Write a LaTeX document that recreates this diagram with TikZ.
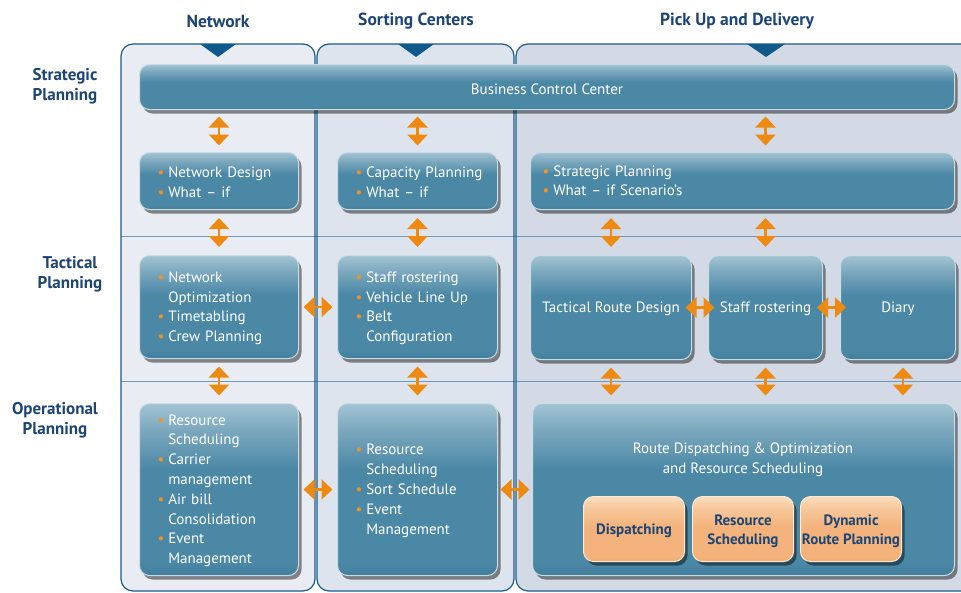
\documentclass[tikz,border=0pt]{standalone}
\usepackage{fontspec}
\setmainfont{PT Sans}
\usetikzlibrary{arrows.meta,shadows,calc}
\definecolor{navy}{HTML}{1C4575}
\definecolor{laneA}{HTML}{E9EDF3}
\definecolor{laneB}{HTML}{DEE4ED}
\definecolor{laneC}{HTML}{D3DAE6}
\definecolor{laneedge}{HTML}{1B5B88}
\definecolor{lanetri}{HTML}{0F5A8A}
\definecolor{rowln}{HTML}{6C9BBD}
\definecolor{arrowor}{HTML}{EE8A12}
\definecolor{bulor}{HTML}{F29222}
\definecolor{bbot}{HTML}{427E9D}
\definecolor{bmain}{HTML}{4B88A6}
\definecolor{bmid}{HTML}{7AA7BD}
\definecolor{btop}{HTML}{A3C4D3}
\definecolor{bedge}{HTML}{C9DDE7}
\definecolor{obot}{HTML}{F2AA6C}
\definecolor{omain}{HTML}{F4B37C}
\definecolor{omid}{HTML}{F7C89B}
\definecolor{otop}{HTML}{FADDBE}
\definecolor{oedge}{HTML}{FCE8D3}
\pgfdeclareverticalshading{bluegloss}{100bp}{color(0bp)=(bbot); color(25bp)=(bbot); color(29bp)=(bmain); color(56bp)=(bmain); color(67bp)=(bmid); color(75bp)=(btop); color(100bp)=(btop)}
\pgfdeclareverticalshading{orgloss}{100bp}{color(0bp)=(obot); color(25bp)=(obot); color(29bp)=(omain); color(52bp)=(omain); color(66bp)=(omid); color(75bp)=(otop); color(100bp)=(otop)}
\newcommand\bu{\textcolor{bulor}{\textbullet}}
\newcommand\dn[2][2pt]{\raisebox{-#1}[\height][\depth]{#2}}
\newcommand\blist[2][2.5pt]{\dn[#1]{\fontsize{15}{19.8}\selectfont\begin{tabular}{@{}l@{\hspace{4pt}}l@{}}#2\end{tabular}}}
\newcommand\cl[1]{\dn{\begin{tabular}{@{}c@{}}#1\end{tabular}}}
\begin{document}
\begin{tikzpicture}[x=1pt,y=-1pt,
  lane/.style={rounded corners=12pt},
  laneline/.style={draw=laneedge, line width=1.2pt, rounded corners=12pt},
  rowline/.style={draw=rowln, line width=0.9pt},
  head/.style={text=navy, font=\fontsize{17.5}{20}\selectfont\bfseries},
  rowlab/.style={text=navy, font=\fontsize{17}{20}\selectfont\bfseries, align=center},
  box/.style={rounded corners=10pt, draw=bedge, line width=1pt, shading=bluegloss,
    drop shadow={shadow xshift=3pt, shadow yshift=-4pt, opacity=0.45, fill=black},
    text=white, font=\fontsize{15}{19.8}\selectfont, anchor=north west, inner ysep=0pt},
  lbox/.style={box, inner xsep=18pt, align=left},
  cbox/.style={box, inner xsep=2pt, align=center},
  obox/.style={rounded corners=10pt, draw=oedge, line width=1pt, shading=orgloss,
    drop shadow={shadow xshift=3pt, shadow yshift=-4pt, opacity=0.45, fill=black},
    text=navy, font=\fontsize{15}{19.5}\selectfont\bfseries, anchor=north west,
    inner sep=0pt, align=center, minimum width=101pt, minimum height=65pt},
  dbl/.style={line width=2.6pt, draw=arrowor,
    {Triangle[width=20pt,length=11pt]}-{Triangle[width=20pt,length=11pt]},
    shorten <=#1, shorten >=#1},
]
\clip (0,0) rectangle (961,592);
\fill[white] (0,0) rectangle (961,592);
% lanes
\fill[lane, laneA] (121,44) rectangle (315,591);
\fill[lane, laneB] (317,44) rectangle (514,591);
\fill[lane, laneC] (516,44) rectangle (990,591);
\draw[rowline] (121,236) -- (961,236);
\draw[rowline] (121,381) -- (961,381);
\draw[laneline] (121,44) rectangle (315,591);
\draw[laneline] (317,44) rectangle (514,591);
\draw[laneline] (516,44) rectangle (990,591);
\fill[lanetri] (200,44) -- (236,44) -- (218,57) -- cycle;
\fill[lanetri] (398,44) -- (434,44) -- (416,57) -- cycle;
\fill[lanetri] (747,44) -- (785,44) -- (766,57) -- cycle;
% headings
\node[head] (hnet) at (218,21.5) {Network};
\node[head] (hsort) at (416,21.5) {Sorting Centers};
\node[head] (hpud) at (737,21.5) {Pick Up and Delivery};
\node[rowlab] (lstr) at (65,86) {Strategic\\Planning};
\node[rowlab] (ltac) at (70,274) {Tactical\\Planning};
\node[rowlab] (lop) at (55,420) {Operational\\Planning};
% strategic row
\node[cbox, minimum width=815pt, minimum height=45pt] (bcc) at (139,64) {\dn{Business Control Center}};
\node[lbox, minimum width=159pt, minimum height=57pt, text width=123pt] (nd) at (139,152)
  {\blist{\bu & Network Design\\ \bu & What – if}};
\node[lbox, minimum width=160pt, minimum height=57pt, text width=124pt] (cp) at (337,152)
  {\blist{\bu & Capacity Planning\\ \bu & What – if}};
\node[box, inner xsep=12pt, align=left, minimum width=424pt, minimum height=57pt, text width=400pt] (sp) at (530,152)
  {\blist[1pt]{\bu & Strategic Planning\\ \bu & What – if Scenario’s}};
% tactical row
\node[lbox, minimum width=159pt, minimum height=103pt, text width=123pt] (tn) at (139,255)
  {\blist[1pt]{\bu & Network\\ & Optimization\\ \bu & Timetabling\\ \bu & Crew Planning}};
\node[lbox, minimum width=160pt, minimum height=103pt, text width=124pt] (ts) at (337,255)
  {\blist[1pt]{\bu & Staff rostering\\ \bu & Vehicle Line Up\\ \bu & Belt\\ & Configuration}};
\node[cbox, minimum width=161pt, minimum height=104pt] (trd) at (530,255) {\dn[1pt]{Tactical Route Design}};
\node[cbox, minimum width=114pt, minimum height=104pt] (sr) at (708,255) {\dn[1pt]{Staff rostering}};
\node[cbox, minimum width=115pt, minimum height=104pt] (di) at (840,255) {\dn[1pt]{Diary}};
% operational row
\node[lbox, minimum width=159pt, minimum height=172pt, text width=123pt] (on) at (139,403)
  {\blist[1pt]{\bu & Resource\\ & Scheduling\\ \bu & Carrier\\ & management\\ \bu & Air bill\\ & Consolidation\\ \bu & Event\\ & Management}};
\node[lbox, minimum width=160pt, minimum height=172pt, text width=124pt] (os) at (337,403)
  {\blist[1pt]{\bu & Resource\\ & Scheduling\\ \bu & Sort Schedule\\ \bu & Event\\ & Management}};
\node[cbox, minimum width=422pt, minimum height=172pt] (rd) at (532,403) {};
\node[text=white, font=\fontsize{15}{20}\selectfont, align=center] (rdt) at (743,460)
  {Route Dispatching \& Optimization\\and Resource Scheduling};
\node[obox] (dp) at (583,496) {\dn{Dispatching}};
\node[obox] (rs) at (692,496) {\cl{Resource\\Scheduling}};
\node[obox] (drp) at (800,496) {\cl{Dynamic\\Route Planning}};
% arrows strategic
\draw[dbl=6.5pt] (bcc.south -| nd.north) -- (nd.north);
\draw[dbl=6.5pt] (bcc.south -| cp.north) -- (cp.north);
\draw[dbl=6.5pt] (bcc.south -| sr.north) -- (sp.north -| sr.north);
\draw[dbl=8pt] (nd.south) -- (tn.north);
\draw[dbl=8pt] (cp.south) -- (ts.north);
\draw[dbl=8pt] (sp.south -| trd.north) -- (trd.north);
\draw[dbl=8pt] (sp.south -| sr.north) -- (sr.north);
% tactical
\draw[dbl=4.5pt] (tn.east) -- (ts.west);
\draw[dbl=-6.5pt] (trd.east) -- (sr.west);
\draw[dbl=-6pt] (sr.east) -- (di.west);
\draw[dbl=7.5pt] (tn.south) -- (on.north);
\draw[dbl=7.5pt] (ts.south) -- (os.north);
\draw[dbl=7.5pt] (trd.south) -- (rd.north -| trd.south);
\draw[dbl=7.5pt] (sr.south) -- (rd.north -| sr.south);
\draw[dbl=7.5pt] ([xshift=5pt]di.south) -- ([xshift=5pt]di.south |- rd.north);
% operational
\draw[dbl=4.5pt] (on.east) -- (os.west);
\draw[dbl=2.5pt] (os.east) -- (rd.west);
\end{tikzpicture}
\end{document}
